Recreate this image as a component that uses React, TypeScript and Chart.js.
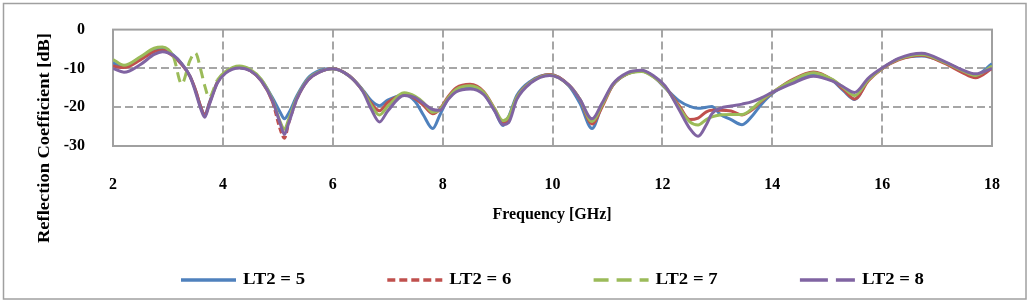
import React, { useEffect, useRef } from "react";
import { Chart, registerables } from "chart.js";

Chart.register(...registerables);

// ---- data ----
const FREQ = [
  2.0, 2.2, 2.5, 2.75, 2.9, 3.1, 3.25, 3.4, 3.5, 3.6, 3.67, 3.75, 3.9, 4.05, 4.3, 4.5, 4.7, 4.9, 5.05, 5.12,
  5.2, 5.35, 5.55, 5.75, 6.0, 6.3, 6.55, 6.7, 6.85, 7.0, 7.3, 7.5, 7.65, 7.82, 7.95, 8.1, 8.25, 8.5, 8.75, 8.95,
  9.1, 9.2, 9.35, 9.6, 9.95, 10.3, 10.5, 10.72, 10.9, 11.1, 11.35, 11.62, 11.85, 12.05, 12.3, 12.5, 12.65, 12.8, 12.9, 13.05,
  13.25, 13.45, 13.65, 13.8, 14.0, 14.35, 14.75, 15.1, 15.3, 15.5, 15.75, 16.0, 16.3, 16.72, 17.15, 17.45, 17.7, 18.0,
];

const LT2_5 = [
  -8.6, -9.4, -7.2, -5.2, -4.9, -6.6, -8.8, -12.0, -15.5, -20.0, -22.0, -19.0, -13.5, -11.0, -9.8, -10.5, -13.0, -17.5, -21.5, -23.0,
  -21.5, -17.0, -12.5, -10.6, -10.0, -11.9, -15.6, -18.3, -19.6, -18.2, -16.8, -18.5, -22.0, -25.5, -22.0, -17.8, -15.8, -14.9, -16.5, -21.0,
  -24.7, -22.5, -17.0, -13.3, -11.6, -14.5, -19.0, -25.5, -19.5, -14.3, -11.5, -10.7, -12.2, -15.0, -18.3, -19.8, -20.3, -20.0, -19.8, -21.8,
  -23.2, -24.5, -22.0, -19.3, -16.5, -13.5, -11.4, -13.2, -15.8, -18.0, -12.8, -10.0, -7.6, -6.8, -8.5, -10.5, -11.7, -8.8,
];

const LT2_6 = [
  -9.4, -9.8, -7.8, -5.7, -5.3, -6.9, -9.0, -12.0, -15.5, -20.0, -22.2, -19.2, -13.6, -11.0, -9.8, -10.6, -13.2, -18.5, -26.0, -28.0,
  -24.0, -17.8, -13.0, -11.0, -10.0, -11.9, -15.8, -19.0, -20.9, -18.8, -16.8, -17.8, -19.5, -21.7, -20.5, -17.3, -15.0, -14.1, -16.0, -20.5,
  -24.2, -23.0, -17.5, -13.6, -11.6, -14.3, -18.0, -24.3, -20.0, -14.3, -11.5, -10.7, -12.2, -14.8, -19.5, -23.2, -22.8, -21.2, -20.8, -20.8,
  -21.0, -22.0, -20.5, -18.5, -16.3, -13.0, -10.9, -13.0, -15.5, -17.9, -13.2, -10.1, -7.8, -6.6, -8.8, -11.0, -12.4, -10.0,
];

const LT2_7 = [
  -7.7, -9.2, -7.0, -4.8, -4.5, -7.0, -14.0, -8.0, -6.0, -10.5, -14.5, -17.5, -13.0, -10.8, -9.4, -10.3, -12.8, -18.0, -24.0, -25.7,
  -23.0, -17.5, -12.8, -10.9, -10.1, -12.0, -15.8, -19.5, -22.0, -19.8, -16.3, -17.2, -18.8, -21.3, -20.6, -17.6, -15.4, -14.5, -16.2, -20.5,
  -23.5, -22.5, -17.5, -13.6, -11.7, -14.4, -18.0, -23.7, -19.5, -14.2, -11.5, -10.8, -12.3, -14.8, -20.0, -23.8, -24.6, -23.2, -22.5, -22.0,
  -21.9, -21.9, -20.2, -18.3, -16.2, -13.2, -11.1, -12.9, -15.0, -17.0, -12.9, -10.0, -7.6, -6.4, -8.5, -10.5, -11.8, -9.4,
];

const LT2_8 = [
  -10.0, -11.0, -9.0, -6.4, -5.7, -6.7, -8.8, -12.0, -16.0, -20.5, -22.6, -19.5, -13.8, -11.2, -9.9, -10.6, -13.2, -18.2, -24.5, -27.0,
  -24.0, -17.8, -13.0, -11.0, -10.1, -12.0, -16.0, -20.5, -23.8, -21.0, -17.0, -17.5, -19.0, -20.6, -20.8, -18.0, -16.0, -15.3, -16.8, -21.0,
  -24.5, -24.0, -18.0, -13.8, -11.8, -14.3, -18.0, -23.0, -19.0, -14.0, -11.2, -10.5, -12.0, -14.5, -20.5, -25.5, -27.5, -24.5, -21.7, -20.3,
  -19.7, -19.2, -18.5, -17.6, -16.2, -14.0, -12.0, -13.3, -14.8, -16.2, -12.5, -9.9, -7.4, -6.1, -8.3, -10.3, -11.4, -10.0,
];

const SERIES_LABELS = ["LT2 = 5", "LT2 = 6", "LT2 = 7", "LT2 = 8"];
const X_TICKS = [2, 4, 6, 8, 10, 12, 14, 16, 18];
const Y_TICKS = [0, -10, -20, -30];
const X_TITLE = "Frequency [GHz]";
const Y_TITLE = "Reflection Coefficient [dB]";

// ---- styles ----
const COLORS = ["#4F81BD", "#C0504D", "#9BBB59", "#8064A2"];
const LEGEND_DASH = [[], [8, 4], [15, 8], [28, 8]];
const FONT = "'Liberation Serif', 'Times New Roman', serif";
const GRID_COLOR = "#A6A6A6";

const frame = {
  id: "frame",
  beforeDraw(chart: any) {
    const { ctx, width, height } = chart;
    ctx.save();
    ctx.fillStyle = "#fff";
    ctx.fillRect(0, 0, width, height);
    ctx.strokeStyle = "#A0A0A0";
    ctx.lineWidth = 1.5;
    ctx.strokeRect(3.5, 3.5, 1022.5, 295.5);
    ctx.restore();
  },
  beforeDatasetsDraw(chart: any) {
    const { ctx, chartArea: a, scales } = chart;
    ctx.save();
    ctx.strokeStyle = GRID_COLOR;
    ctx.lineWidth = 2;
    ctx.setLineDash([8, 4]);
    X_TICKS.slice(1, -1).forEach((v) => {
      const px = Math.round(scales.x.getPixelForValue(v));
      ctx.beginPath();
      ctx.moveTo(px, a.top);
      ctx.lineTo(px, a.bottom);
      ctx.stroke();
    });
    Y_TICKS.slice(1, -1).forEach((v) => {
      const py = Math.round(scales.y.getPixelForValue(v));
      ctx.beginPath();
      ctx.moveTo(a.left, py);
      ctx.lineTo(a.right, py);
      ctx.stroke();
    });
    ctx.setLineDash([]);
    ctx.strokeStyle = "#A0A0A0";
    ctx.strokeRect(a.left, a.top, a.right - a.left, a.bottom - a.top);
    ctx.restore();
  },
  afterDraw(chart: any) {
    const { ctx } = chart;
    ctx.save();
    ctx.fillStyle = "#000";
    ctx.font = `bold 16px ${FONT}`;
    ctx.textBaseline = "middle";
    // x title
    ctx.textAlign = "center";
    ctx.fillText(X_TITLE, 552, 215);
    // y title (rotated, slightly stretched like the original)
    ctx.save();
    ctx.translate(45, 138);
    ctx.rotate(-Math.PI / 2);
    const yw = ctx.measureText(Y_TITLE).width;
    ctx.scale(210 / yw, 1);
    ctx.fillText(Y_TITLE, 0, 0);
    ctx.restore();
    // legend
    const ly = 280;
    SERIES_LABELS.forEach((lab, i) => {
      const lx = 181 + i * 206.3;
      ctx.save();
      ctx.strokeStyle = COLORS[i];
      ctx.lineWidth = 3.5;
      ctx.setLineDash(LEGEND_DASH[i]);
      ctx.beginPath();
      ctx.moveTo(lx, ly);
      ctx.lineTo(lx + 55, ly);
      ctx.stroke();
      ctx.restore();
      ctx.save();
      ctx.translate(lx + 62, ly);
      const tw = ctx.measureText(lab).width;
      ctx.scale(62 / tw, 1);
      ctx.textAlign = "left";
      ctx.fillText(lab, 0, 0);
      ctx.restore();
    });
    ctx.restore();
  },
};

export default function App() {
  const ref = useRef<HTMLCanvasElement | null>(null);

  useEffect(() => {
    if (!ref.current) return;
    const seriesVals = [LT2_5, LT2_6, LT2_7, LT2_8];
    const datasets = seriesVals.map((vals, i) => ({
      label: SERIES_LABELS[i],
      data: FREQ.map((f, k) => ({ x: f, y: vals[k] })),
      borderColor: COLORS[i],
      backgroundColor: COLORS[i],
      borderWidth: 3,
      pointRadius: 0,
      fill: false,
      cubicInterpolationMode: "monotone" as const,
      order: 3 - i,
      segment: {
        borderDash: (c: any) => {
          const x0 = c.p0.parsed.x;
          if (i === 2 && x0 >= 3.05 && x0 < 3.9) return [10, 6];
          if (i === 1 && x0 >= 4.9 && x0 < 5.3) return [6, 3];
          return undefined;
        },
      },
    }));

    const tickFont = { family: FONT, size: 16, weight: "bold" as const };
    const chart = new Chart(ref.current, {
      type: "line",
      data: { datasets },
      options: {
        animation: false,
        responsive: false,
        devicePixelRatio: 1,
        layout: { padding: { left: 0, top: 28, right: 38, bottom: 0 } },
        plugins: { legend: { display: false }, tooltip: { enabled: false }, title: { display: false } },
        scales: {
          x: {
            type: "linear",
            min: 2,
            max: 18,
            grid: { display: false },
            border: { display: false },
            afterBuildTicks: (s: any) => {
              s.ticks = X_TICKS.map((v) => ({ value: v }));
            },
            afterFit: (s: any) => {
              s.height = 158;
            },
            ticks: {
              font: tickFont,
              color: "#000",
              padding: 21,
              maxRotation: 0,
              autoSkip: false,
              callback: (v: any) => String(v),
            },
          },
          y: {
            type: "linear",
            min: -30,
            max: 0,
            grid: { display: false },
            border: { display: false },
            afterBuildTicks: (s: any) => {
              s.ticks = Y_TICKS.map((v) => ({ value: v }));
            },
            afterFit: (s: any) => {
              s.width = 113;
            },
            ticks: {
              font: tickFont,
              color: "#000",
              padding: 20,
              callback: (v: any) => String(v),
            },
          },
        },
      },
      plugins: [frame],
    });
    return () => chart.destroy();
  }, []);

  return (
    <div style={{ position: "absolute", left: 0, top: 0, width: 1030, height: 304 }}>
      <canvas ref={ref} width={1030} height={304} style={{ display: "block", width: 1030, height: 304 }} />
    </div>
  );
}
